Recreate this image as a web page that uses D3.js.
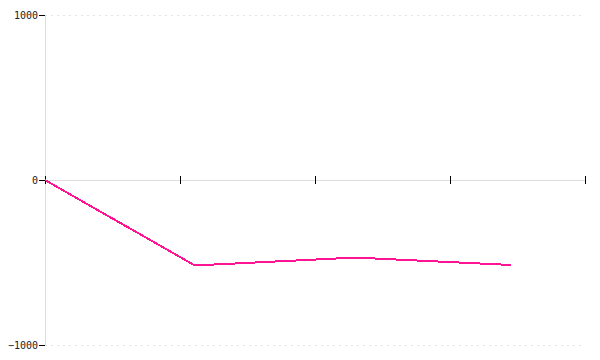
<!DOCTYPE html>
<html>
<head>
	<meta charset="utf-8">
	<style>
		body { margin: 0; background: #fff; }
		svg { display: block; }
		.axis text {
			font-family: 'DejaVu Sans Mono', monospace;
			font-size: 10px;
			fill: #222;
		}
		.axis path { stroke: #ddd; shape-rendering: crispEdges; }
		.axis line { stroke: #000; shape-rendering: crispEdges; }
		.grid line { stroke: #e4e4e4; stroke-dasharray: 2,4; shape-rendering: crispEdges; }
		.grid path { stroke: none; }
		.series { fill: none; stroke: #ff1493; stroke-width: 2; shape-rendering: crispEdges; }
	</style>
	<script src="https://d3js.org/d3.v7.min.js"></script>
</head>
<body>
<script>
	var xValues = [0, 1.11, 2.3, 3.45];
	var yValues = [0, -518, -470, -515];
	var yTicks = [-1000, 0, 1000];
	var xTicks = [0, 1, 2, 3, 4];

	var margin = {top: 15, right: 15, bottom: 15, left: 45},
		width = 600 - margin.left - margin.right,
		height = 360 - margin.top - margin.bottom;

	var svg = d3.select('body').append('svg')
		.attr('width', 600)
		.attr('height', 360)
	  .append('g')
		.attr('transform', 'translate(' + margin.left + ',' + margin.top + ')');

	var x = d3.scaleLinear().domain([0, 4]).range([0, width]);
	var y = d3.scaleLinear().domain([-1000, 1000]).range([height, 0]);

	// dotted gridlines at the extremes
	svg.append('g')
		.attr('class', 'grid')
		.call(d3.axisLeft(y)
			.tickValues([-1000, 1000])
			.tickSize(-width)
			.tickFormat(''));

	// y axis
	svg.append('g')
		.attr('class', 'axis y')
		.call(d3.axisLeft(y)
			.tickValues(yTicks)
			.tickSize(6)
			.tickSizeOuter(0)
			.tickPadding(1)
			.tickFormat(d3.format('d')));

	// x axis through zero, ticks crossing the line
	var xAxis = svg.append('g')
		.attr('class', 'axis x')
		.attr('transform', 'translate(0,' + y(0) + ')')
		.call(d3.axisBottom(x)
			.tickValues(xTicks)
			.tickSizeOuter(0)
			.tickSize(4)
			.tickFormat(''));
	xAxis.selectAll('.tick line').attr('y1', -4);

	var data = xValues.map(function(v, i) { return {x: v, y: yValues[i]}; });

	var line = d3.line()
		.x(function(d) { return x(d.x); })
		.y(function(d) { return y(d.y); });

	svg.append('path')
		.datum(data)
		.attr('class', 'series')
		.attr('d', line);
</script>
</body>
</html>
